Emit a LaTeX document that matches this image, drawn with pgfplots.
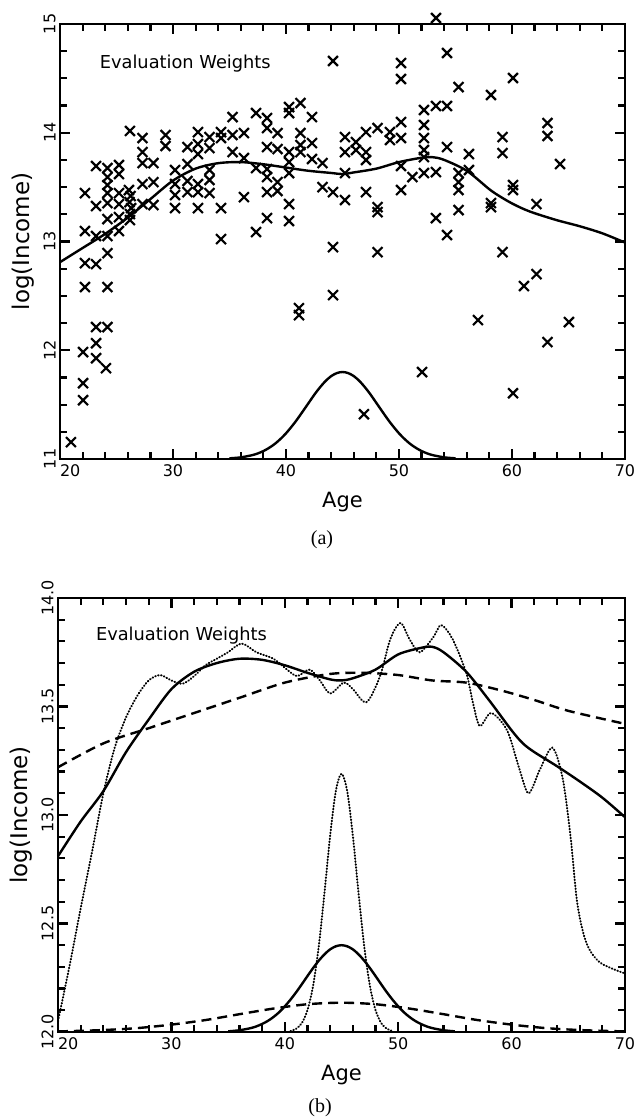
\documentclass[border=0pt]{standalone}
\usepackage{fontspec}
\setmainfont{DejaVu Sans}
\newfontfamily\seriffont{Liberation Serif}
\usepackage{pgfplots}
\pgfplotsset{compat=1.18}

\pgfplotsset{
 mystyle/.style={
  scale only axis,
  xmin=20,xmax=70,
  axis line style={line width=1pt},
  tick align=inside,
  major tick length=5pt,
  minor tick length=3.5pt,
  every tick/.style={black, line width=1.1pt},
  xtick={20,30,40,50,60,70},
  xticklabels={\makebox[0pt][l]{20},30,40,50,60,70},
  minor x tick num=4,
  xticklabel style={font=\fontsize{8}{10}\selectfont, inner sep=2.5pt},
  yticklabel style={font=\fontsize{8}{10}\selectfont, rotate=90, anchor=south, inner sep=2pt},
  xlabel={Age},
  ylabel={log(Income)},
  every axis x label/.style={at={(axis description cs:0.5,-0.1)},anchor=center,font=\fontsize{10.5}{12}\selectfont},
  every axis y label/.style={at={(axis description cs:-0.0655,0.5)},anchor=center,rotate=90,font=\fontsize{11.5}{13}\selectfont},
  clip=false,
 }
}

\pgfplotstableread{
x y
20.97 11.155
22.21 13.445
22.21 13.096
22.21 12.801
22.21 12.581
22.04 11.983
22.04 11.697
22.04 11.541
23.19 13.694
23.19 13.326
23.19 13.050
23.19 12.792
23.19 12.213
23.19 12.065
23.19 11.927
24.20 13.675
24.20 13.592
24.20 13.519
24.20 13.445
24.20 13.353
24.20 13.206
24.20 13.050
24.20 12.893
24.20 12.581
24.20 12.213
24.07 11.835
25.22 13.703
25.22 13.620
25.22 13.445
25.22 13.344
25.22 13.224
25.22 13.096
26.19 14.016
26.10 13.473
26.25 13.418
26.15 13.362
26.30 13.307
26.19 13.252
26.19 13.197
27.30 13.951
27.30 13.822
27.30 13.721
27.30 13.528
27.30 13.344
28.27 13.721
28.27 13.546
28.27 13.335
29.34 13.979
29.34 13.878
30.18 13.657
30.18 13.528
30.18 13.427
30.18 13.307
31.28 13.868
31.28 13.712
31.28 13.556
31.28 13.454
32.21 14.006
32.21 13.896
32.21 13.804
32.21 13.528
32.21 13.454
32.21 13.307
33.23 13.960
33.23 13.859
33.23 13.657
33.23 13.565
33.23 13.445
34.25 14.006
34.25 13.951
34.25 13.307
34.25 13.022
35.27 14.144
35.27 13.979
35.27 13.822
36.28 13.997
36.28 13.767
36.28 13.408
37.35 14.181
37.35 13.675
37.35 13.087
38.32 14.135
38.32 14.043
38.32 13.868
38.32 13.666
38.32 13.592
38.32 13.454
38.32 13.215
39.25 13.997
39.25 13.850
39.25 13.546
39.25 13.464
40.27 14.236
40.27 14.181
40.27 13.822
40.27 13.730
40.27 13.629
40.27 13.344
40.27 13.188
41.28 14.273
41.28 13.997
41.28 13.887
41.28 13.822
41.15 12.387
41.15 12.323
42.30 14.144
42.30 13.905
42.30 13.758
43.23 13.721
43.23 13.500
44.16 14.660
44.16 13.454
44.16 12.948
44.16 12.507
45.22 13.960
45.22 13.822
45.22 13.629
45.22 13.381
46.19 13.914
46.19 13.841
47.08 14.006
47.08 13.822
47.08 13.749
47.08 13.454
46.90 11.412
48.10 14.043
48.10 13.316
48.10 13.270
48.10 12.902
49.20 14.006
49.20 13.933
50.18 14.641
50.18 14.494
50.18 14.098
50.18 13.951
50.18 13.694
50.18 13.473
51.19 13.592
52.21 14.209
52.21 14.071
52.21 13.951
52.21 13.841
52.21 13.776
52.21 13.629
52.04 11.799
53.27 15.055
53.27 14.246
53.27 13.638
53.27 13.215
54.25 14.733
54.25 14.246
54.25 13.868
54.25 13.059
55.27 14.420
55.27 13.629
55.27 13.546
55.27 13.473
55.27 13.289
56.19 13.804
56.19 13.657
56.99 12.277
58.14 14.347
58.14 13.353
58.14 13.316
59.16 13.960
59.16 13.813
59.16 12.902
60.09 14.503
60.09 13.519
60.09 13.473
60.09 11.605
61.06 12.590
62.17 13.344
62.17 12.700
63.14 14.089
63.14 13.970
63.14 12.075
64.25 13.712
65.04 12.259
}\scatterdata

\begin{document}
\begin{tikzpicture}
\useasboundingbox (0,0) rectangle (318pt,558.5pt);

% ---------- panel (a) ----------
\begin{axis}[mystyle,
  at={(30pt,329pt)}, anchor=south west,
  width=282.5pt, height=217.5pt,
  ymin=11, ymax=15,
  ytick={11,12,13,14,15},
  yticklabels={11,12,13,14,15},
  minor y tick num=3,
]
\addplot[only marks, mark=x, mark size=3.5pt, mark options={line width=1.1pt}] table[x=x,y=y] {\scatterdata};
\addplot[line width=1.2pt, smooth] coordinates {
(20,12.81)(22,12.94)(24,13.07)(26,13.22)(28,13.39)(30,13.56)(32,13.67)(34,13.72)
(36,13.73)(38,13.71)(40,13.68)(42,13.65)(44,13.63)(45,13.62)(46,13.635)(48,13.67)
(50,13.73)(52,13.77)(53,13.775)(54,13.75)(56,13.65)(58,13.48)(59,13.41)(60,13.35)(61,13.30)(62,13.26)
(64,13.195)(66,13.14)(68,13.075)(70,12.99)};
\addplot[line width=1.2pt, smooth] coordinates {
(35,11.006)(36,11.015)(37,11.035)(37.5,11.051)(38,11.073)(38.5,11.102)(39,11.138)(39.5,11.183)
(40,11.236)(40.5,11.298)(41,11.366)(41.5,11.440)(42,11.515)(42.5,11.590)(43,11.658)(43.5,11.717)
(44,11.762)(44.5,11.790)(45,11.8)(45.5,11.790)(46,11.762)(46.5,11.717)(47,11.658)(47.5,11.590)
(48,11.515)(48.5,11.440)(49,11.366)(49.5,11.298)(50,11.236)(50.5,11.183)(51,11.138)(51.5,11.102)
(52,11.073)(52.5,11.051)(53,11.035)(54,11.015)(55,11.006)};
\node[anchor=west, font=\fontsize{8.9}{10}\selectfont] at (axis cs:22.9,14.64) {Evaluation Weights};
\end{axis}

% ---------- panel (b) ----------
\begin{axis}[mystyle,
  at={(29pt,42.5pt)}, anchor=south west,
  width=283.5pt, height=217pt,
  ymin=12, ymax=14,
  ytick={12,12.5,13,13.5,14},
  yticklabels={12.0,12.5,13.0,13.5,14.0},
  minor y tick num=4,
  every axis x label/.style={at={(axis description cs:0.5,-0.099)},anchor=center,font=\fontsize{10.5}{12}\selectfont},
]
% solid fit
\addplot[line width=1.2pt, smooth] coordinates {
(20,12.81)(22,12.97)(24,13.11)(26,13.29)(28,13.44)(30,13.58)(32,13.66)(34,13.70)
(36,13.72)(38,13.715)(40,13.69)(42,13.655)(44,13.625)(45,13.62)(46,13.63)(48,13.67)
(50,13.74)(52,13.77)(53,13.775)(54,13.75)(56,13.66)(58,13.53)(60,13.39)(61,13.33)(62,13.29)
(64,13.225)(66,13.155)(68,13.08)(70,12.99)};
% dashed fit
\addplot[line width=1.2pt, smooth, dash pattern=on 5pt off 3pt] coordinates {
(20,13.22)(24,13.33)(28,13.40)(32,13.47)(36,13.54)(40,13.61)(44,13.65)(47,13.655)
(50,13.645)(53,13.62)(56,13.61)(59,13.575)(62,13.53)(65,13.48)(70,13.42)};
% dotted fit
\addplot[line width=1pt, smooth, tension=0.5, line cap=round, dash pattern=on 0.3pt off 1.2pt] coordinates {
(20.0,12.05)(21.0,12.30)(22.0,12.57)(23.0,12.83)(24.0,13.10)(25.0,13.31)(26.0,13.45)(27.0,13.55)
(28.0,13.62)(29.0,13.645)(30.0,13.62)(31.0,13.605)(32.0,13.64)(33.0,13.69)(34.0,13.72)(35.0,13.75)
(36.2,13.79)(37.5,13.75)(39.0,13.72)(40.2,13.67)(41.1,13.64)(42.2,13.67)(43.1,13.62)(44.0,13.56)
(45.2,13.61)(46.0,13.58)(47.2,13.52)(48.4,13.64)(49.3,13.81)(50.2,13.885)(51.0,13.81)(51.9,13.75)
(53.1,13.82)(53.8,13.875)(54.8,13.81)(56.0,13.655)(56.6,13.515)(57.2,13.41)(58.2,13.47)(59.6,13.39)
(60.7,13.21)(61.5,13.10)(62.5,13.21)(63.6,13.31)(64.5,13.17)(65.2,12.90)(65.8,12.59)(66.6,12.41)
(67.8,12.32)(70.0,12.27)};
% solid weights
\addplot[line width=1.2pt, smooth] coordinates {
(35,12.003)(36,12.008)(37,12.018)(37.5,12.026)(38,12.037)(38.5,12.051)(39,12.069)(39.5,12.091)
(40,12.118)(40.5,12.149)(41,12.183)(41.5,12.220)(42,12.258)(42.5,12.295)(43,12.329)(43.5,12.358)
(44,12.381)(44.5,12.395)(45,12.4)(45.5,12.395)(46,12.381)(46.5,12.358)(47,12.329)(47.5,12.295)
(48,12.258)(48.5,12.220)(49,12.183)(49.5,12.149)(50,12.118)(50.5,12.091)(51,12.069)(51.5,12.051)
(52,12.037)(52.5,12.026)(53,12.018)(54,12.008)(55,12.003)};
% dashed weights
\addplot[line width=1.2pt, smooth, dash pattern=on 5pt off 3pt] coordinates {
(20,12.003)(21,12.004)(24,12.009)(27,12.018)(30,12.034)(33,12.055)(36,12.082)(39,12.108)
(42,12.128)(45,12.135)(48,12.128)(51,12.108)(54,12.082)(57,12.055)(60,12.034)(63,12.018)
(66,12.009)(69,12.004)(70,12.003)};
% dotted weights
\addplot[line width=1pt, smooth, line cap=round, dash pattern=on 0.3pt off 1.2pt] coordinates {
(40.5,12.004)(41,12.015)(41.5,12.041)(42,12.101)(42.5,12.214)(43,12.397)(43.5,12.642)(44,12.905)
(44.5,13.111)(45,13.19)(45.5,13.111)(46,12.905)(46.5,12.642)(47,12.397)(47.5,12.214)(48,12.101)
(48.5,12.041)(49,12.015)(49.5,12.004)};
\node[anchor=west, font=\fontsize{8.9}{10}\selectfont] at (axis cs:22.73,13.825) {Evaluation Weights};
\end{axis}

\node[font=\seriffont\fontsize{10}{12}\selectfont] at (161pt,288.5pt) {(a)};
\node[font=\seriffont\fontsize{10}{12}\selectfont] at (160pt,4.6pt) {(b)};
\end{tikzpicture}
\end{document}
